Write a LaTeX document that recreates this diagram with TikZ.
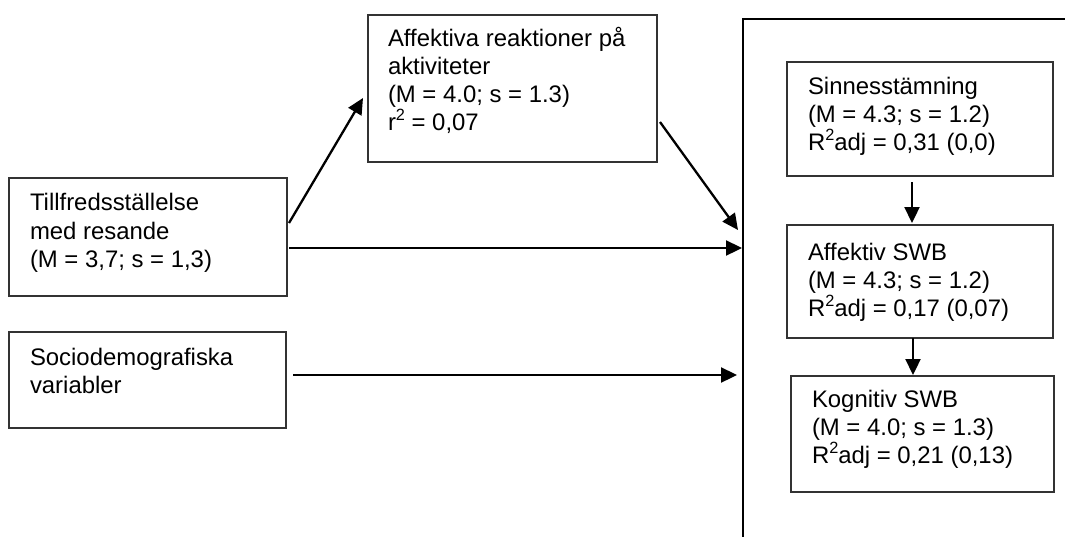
\documentclass[tikz,border=0pt]{standalone}
\usepackage{fontspec}
\setmainfont{Liberation Sans}
\usetikzlibrary{arrows.meta,calc}
\newcommand\suptwo{\raisebox{10.5pt}{\fontsize{16.3}{16}\selectfont 2}}
\begin{document}
\begin{tikzpicture}[x=1pt,y=-1pt,
  box/.style={draw=black!80, line width=1.3pt, inner sep=0pt, outer sep=0pt, anchor=north west},
  txt/.style={inner sep=0pt, outer sep=0pt, anchor=north west, align=left, font=\fontsize{23.9}{28.3}\selectfont},
  arr/.style={line width=2.3pt, -{Triangle[length=16pt,width=15pt]}},
]
\useasboundingbox (0,0) rectangle (1065,536);
\clip (0,0) rectangle (1065,536);
% boxes
\node[box, minimum width=278pt, minimum height=118pt] (till) at (9,178) {};
\node[box, minimum width=289pt, minimum height=147pt] (aff) at (368,15) {};
\node[box, minimum width=277pt, minimum height=96pt] (soc) at (9,332) {};
\node[box, minimum width=266pt, minimum height=114pt] (sinn) at (787,62) {};
\node[box, minimum width=266pt, minimum height=113pt] (aswb) at (787,225) {};
\node[box, minimum width=263pt, minimum height=116pt] (kog) at (791,376) {};
\node[draw, line width=2pt, inner sep=0pt, outer sep=0pt, anchor=north west, minimum width=400pt, minimum height=600pt] (cont) at (743,19) {};
% texts
\node[txt] (tillT) at ($(till.north west)+(21,12.9)$) {\strut Tillfredsställelse\\med resande\\(M = 3,7; s = 1,3)};
\node[txt] (affT) at ($(aff.north west)+(20,11.2)$) {\strut Affektiva reaktioner på\\aktiviteter\\(M = 4.0; s = 1.3)\\r\suptwo{} = 0,07};
\node[txt] (socT) at ($(soc.north west)+(21,13.2)$) {\strut Sociodemografiska\\variabler};
\node[txt] (sinnT) at ($(sinn.north west)+(21,12.2)$) {\strut Sinnesstämning\\(M = 4.3; s = 1.2)\\R\suptwo adj = 0,31 (0,0)};
\node[txt] (aswbT) at ($(aswb.north west)+(21,15.2)$) {\strut Affektiv SWB\\(M = 4.3; s = 1.2)\\R\suptwo adj = 0,17 (0,07)};
\node[txt] (kogT) at ($(kog.north west)+(21,11.2)$) {\strut Kognitiv SWB\\(M = 4.0; s = 1.3)\\R\suptwo adj = 0,21 (0,13)};
% connectors
\draw[arr] ($(till.north east)+(2,45)$) -- ($(aff.north west)+(-5,83)$);
\draw[arr] ($(till.north east)+(2,70)$) -- ($(cont.north west)+(-1,229)$);
\draw[arr] ($(aff.north east)+(3,107)$) -- ($(cont.north west)+(-5,211)$);
\draw[arr] ($(soc.north east)+(7,43)$) -- ($(cont.north west)+(-6,356)$);
\draw[arr] ($(sinn.south)+(-8,6)$) -- ($(aswb.north)+(-8,-2)$);
\draw[arr] ($(aswb.south)+(-7,0)$) -- ($(kog.north)+(-9.5,-1)$);
\end{tikzpicture}
\end{document}
